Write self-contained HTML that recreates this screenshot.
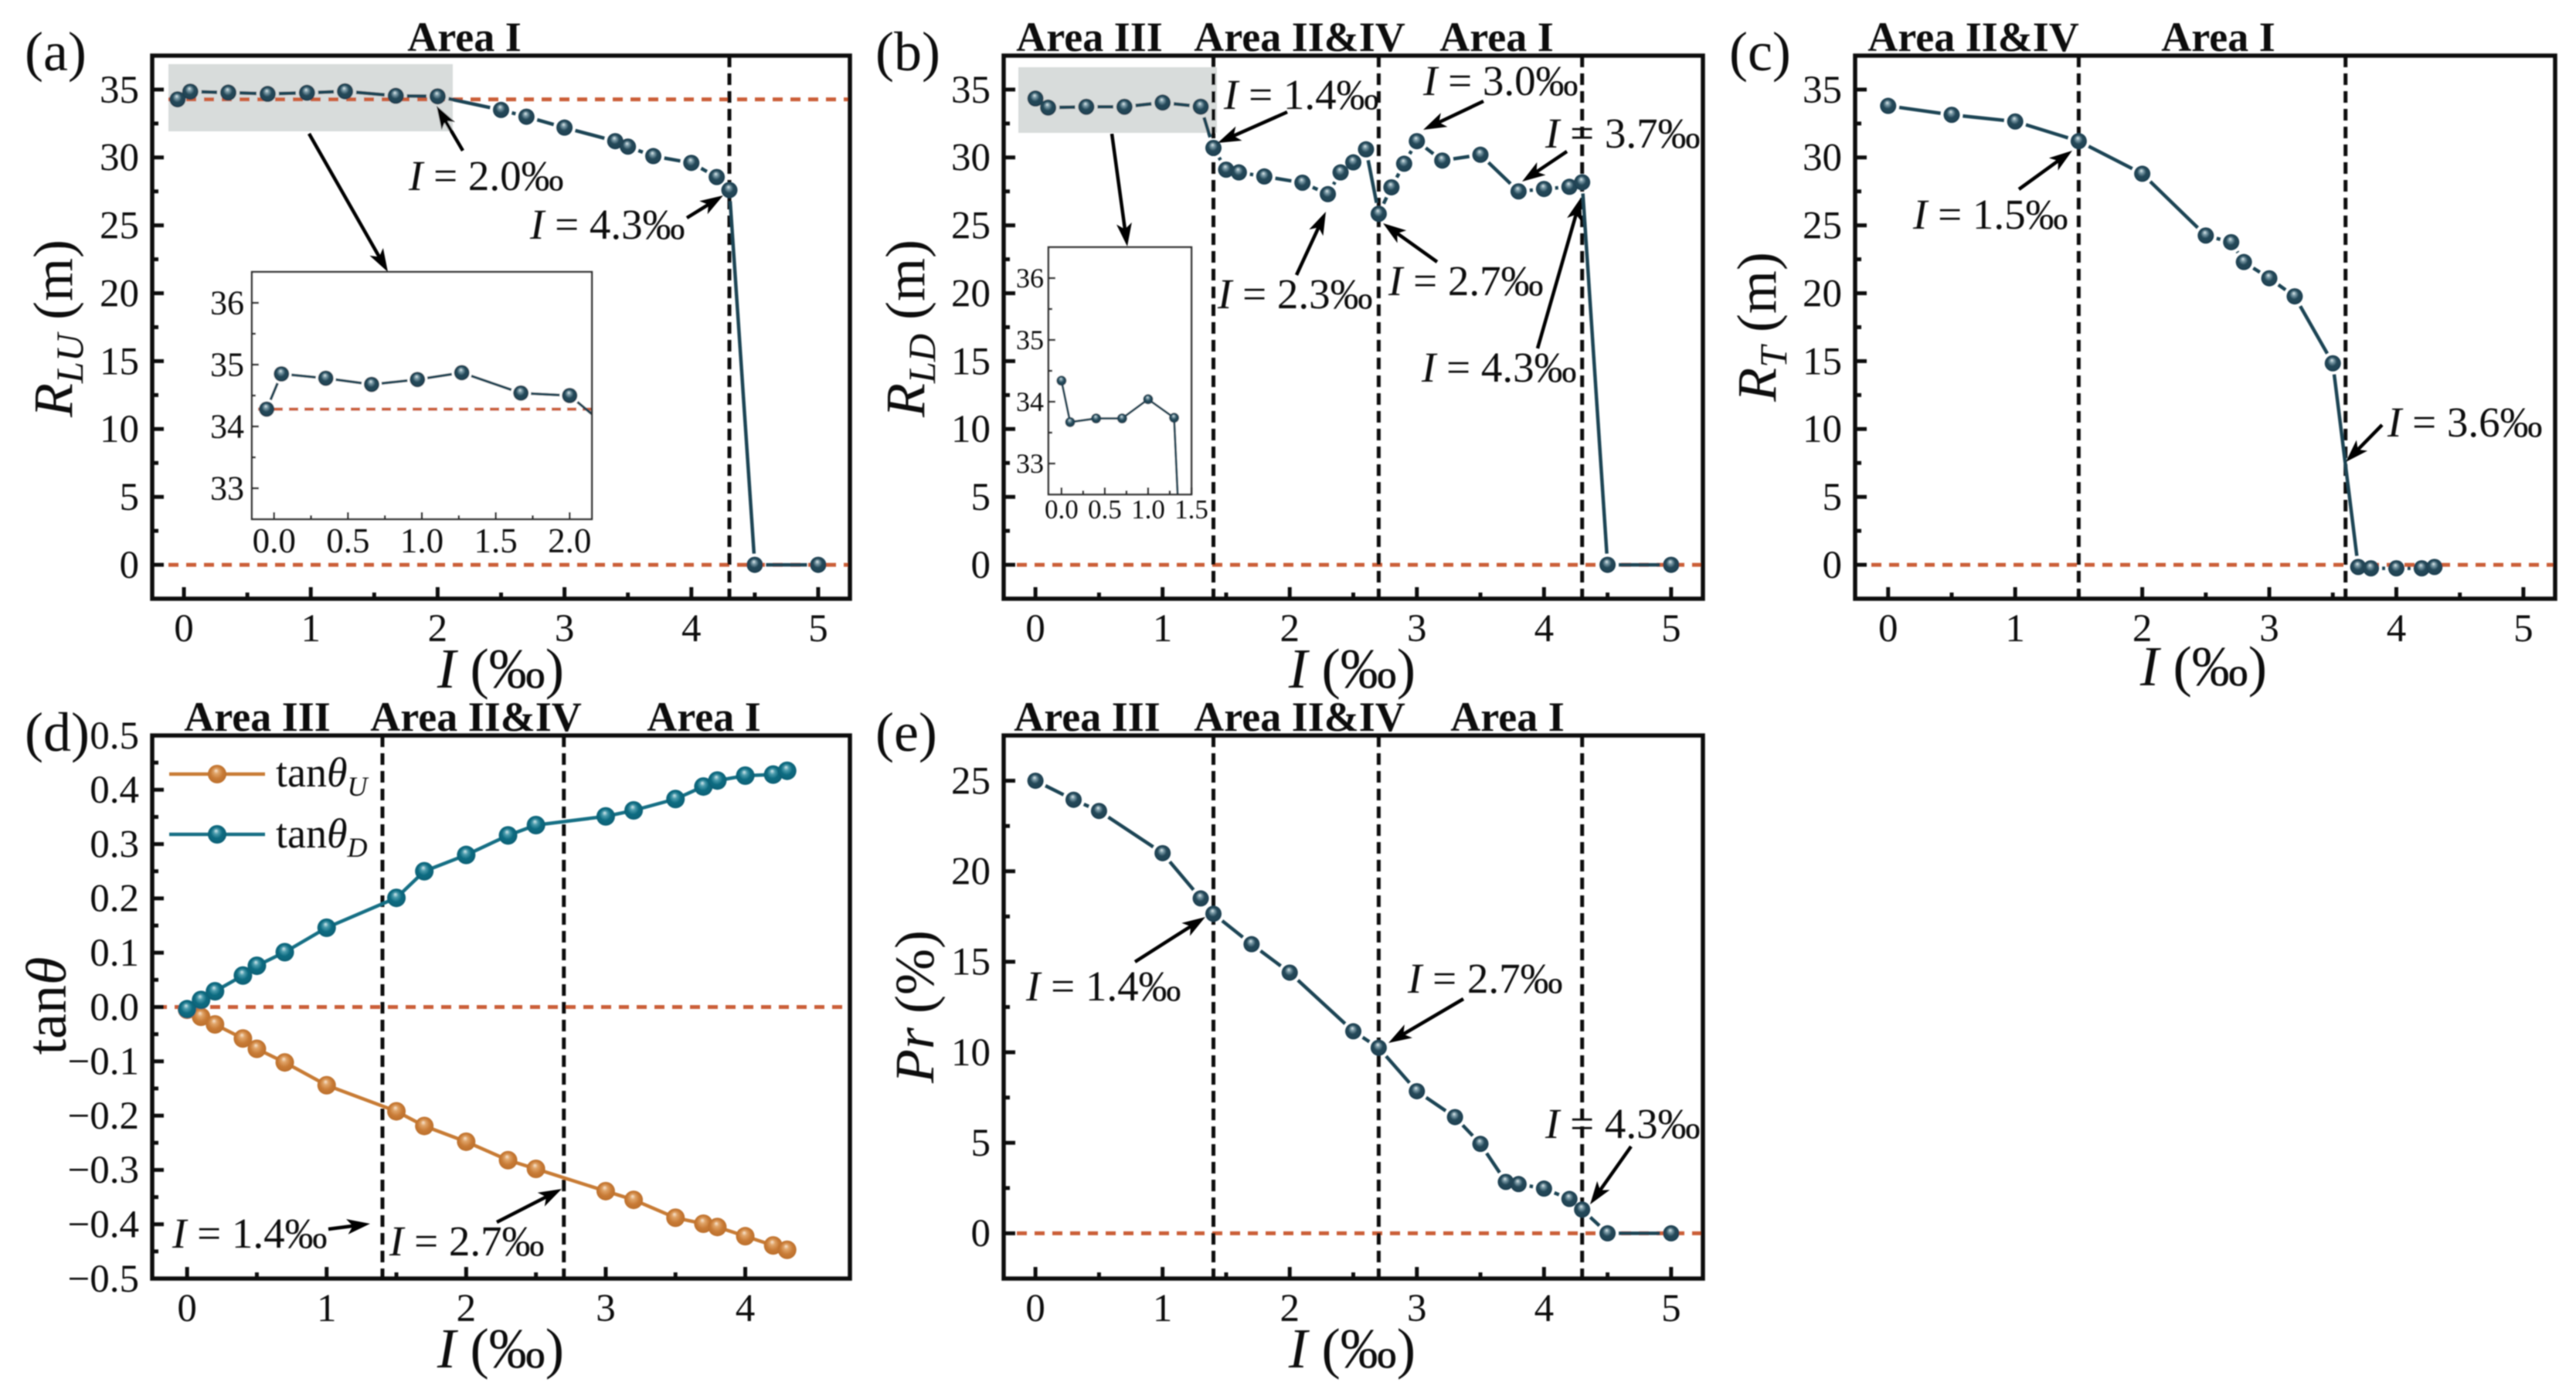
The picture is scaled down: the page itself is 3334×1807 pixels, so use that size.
<!DOCTYPE html>
<html lang="en">
<head>
<meta charset="utf-8">
<title>Panels (a)-(e): R and tan-theta versus I</title>
<style>
html,body{margin:0;padding:0;background:#fff;width:100%;height:100%;overflow:hidden;}
svg{position:fixed;left:0;top:0;overflow:hidden;}
text{font-family:"Liberation Serif",serif;fill:#111;}
.area{font-weight:bold;font-size:54px;text-anchor:middle;}
.ann{font-size:55px;}
.xt{font-size:73px;text-anchor:middle;}
.yt{font-size:72px;text-anchor:middle;}
.letter{font-size:72px;}
.leg{font-size:54px;}
</style>
</head>
<body>
<svg id="chart" xmlns="http://www.w3.org/2000/svg" width="3334" height="1800" viewBox="0 0 3334 1800">
<defs>
<radialGradient id="sphereDark" cx="0.5" cy="0.5" r="0.55" fx="0.44" fy="0.3">
<stop offset="0" stop-color="#e4ecee"/><stop offset="0.2" stop-color="#7f9fab"/><stop offset="0.5" stop-color="#25495a"/><stop offset="1" stop-color="#1c3e4e"/>
</radialGradient>
<radialGradient id="sphereOrange" cx="0.5" cy="0.5" r="0.55" fx="0.44" fy="0.3">
<stop offset="0" stop-color="#f8e6d2"/><stop offset="0.25" stop-color="#e0a468"/><stop offset="0.6" stop-color="#c87b36"/><stop offset="1" stop-color="#b96d2a"/>
</radialGradient>
<radialGradient id="sphereTeal" cx="0.5" cy="0.5" r="0.55" fx="0.44" fy="0.3">
<stop offset="0" stop-color="#d5eaee"/><stop offset="0.25" stop-color="#4a9cad"/><stop offset="0.55" stop-color="#0f6c82"/><stop offset="1" stop-color="#0b5e73"/>
</radialGradient>
<filter id="soft" filterUnits="userSpaceOnUse" x="0" y="0" width="3334" height="1800"><feGaussianBlur stdDeviation="0.8"/></filter>
</defs>
<g id="root" filter="url(#soft)">
<g id="marks"></g>

<text class="letter" x="32" y="91">(a)</text>
<text class="letter" x="1133" y="91">(b)</text>
<text class="letter" x="2238" y="91">(c)</text>
<text class="letter" x="32" y="972">(d)</text>
<text class="letter" x="1133" y="972">(e)</text>

<text class="area" x="601" y="66">Area I</text>
<text class="area" x="1410" y="66">Area III</text>
<text class="area" x="1682" y="66">Area II&amp;IV</text>
<text class="area" x="1937" y="66">Area I</text>
<text class="area" x="2554" y="66">Area II&amp;IV</text>
<text class="area" x="2871" y="66">Area I</text>
<text class="area" x="333" y="946">Area III</text>
<text class="area" x="616" y="946">Area II&amp;IV</text>
<text class="area" x="911" y="946">Area I</text>
<text class="area" x="1407" y="946">Area III</text>
<text class="area" x="1682" y="946">Area II&amp;IV</text>
<text class="area" x="1951" y="946">Area I</text>

<text class="xt" x="648" y="890"><tspan font-style="italic">I</tspan> (‰)</text>
<text class="xt" x="1750" y="890"><tspan font-style="italic">I</tspan> (‰)</text>
<text class="xt" x="2852" y="887"><tspan font-style="italic">I</tspan> (‰)</text>
<text class="xt" x="648" y="1770"><tspan font-style="italic">I</tspan> (‰)</text>
<text class="xt" x="1750" y="1770"><tspan font-style="italic">I</tspan> (‰)</text>

<text class="yt" transform="translate(93,425) rotate(-90)"><tspan font-style="italic">R</tspan><tspan font-style="italic" font-size="50" dy="14">LU</tspan><tspan dy="-14"> (m)</tspan></text>
<text class="yt" transform="translate(1196,425) rotate(-90)"><tspan font-style="italic">R</tspan><tspan font-style="italic" font-size="50" dy="14">LD</tspan><tspan dy="-14"> (m)</tspan></text>
<text class="yt" transform="translate(2298,423) rotate(-90)"><tspan font-style="italic">R</tspan><tspan font-style="italic" font-size="50" dy="14">T</tspan><tspan dy="-14"> (m)</tspan></text>
<text class="yt" style="font-size:74px" transform="translate(85,1302) rotate(-90)">tan<tspan font-style="italic">θ</tspan></text>
<text class="yt" transform="translate(1208,1303) rotate(-90)"><tspan font-style="italic">Pr</tspan> (%)</text>

<text class="ann" x="529" y="246"><tspan font-style="italic">I</tspan> = 2.0‰</text>
<text class="ann" x="686" y="309"><tspan font-style="italic">I</tspan> = 4.3‰</text>
<text class="ann" x="1584" y="141"><tspan font-style="italic">I</tspan> = 1.4‰</text>
<text class="ann" x="1842" y="123"><tspan font-style="italic">I</tspan> = 3.0‰</text>
<text class="ann" x="2000" y="191"><tspan font-style="italic">I</tspan> = 3.7‰</text>
<text class="ann" x="1576" y="399"><tspan font-style="italic">I</tspan> = 2.3‰</text>
<text class="ann" x="1797" y="382"><tspan font-style="italic">I</tspan> = 2.7‰</text>
<text class="ann" x="1840" y="494"><tspan font-style="italic">I</tspan> = 4.3‰</text>
<text class="ann" x="2476" y="296"><tspan font-style="italic">I</tspan> = 1.5‰</text>
<text class="ann" x="3090" y="565"><tspan font-style="italic">I</tspan> = 3.6‰</text>
<text class="ann" x="223" y="1615"><tspan font-style="italic">I</tspan> = 1.4‰</text>
<text class="ann" x="504" y="1625"><tspan font-style="italic">I</tspan> = 2.7‰</text>
<text class="ann" x="1328" y="1295"><tspan font-style="italic">I</tspan> = 1.4‰</text>
<text class="ann" x="1822" y="1285"><tspan font-style="italic">I</tspan> = 2.7‰</text>
<text class="ann" x="2000" y="1473"><tspan font-style="italic">I</tspan> = 4.3‰</text>

<text class="leg" x="357" y="1018">tan<tspan font-style="italic">θ</tspan><tspan font-style="italic" font-size="36" dy="12">U</tspan></text>
<text class="leg" x="357" y="1097">tan<tspan font-style="italic">θ</tspan><tspan font-style="italic" font-size="36" dy="12">D</tspan></text>
</g>
</svg>
<script>
// ---- data ----
var aI = [-0.05,0.05,0.35,0.66,0.97,1.27,1.67,2.0,2.5,2.7,3.0,3.4,3.5,3.7,4.0,4.2,4.3,4.5,5.0];
var aR = [34.28,34.85,34.78,34.68,34.76,34.87,34.54,34.5,33.5,33.0,32.2,31.2,30.8,30.1,29.6,28.56,27.6,0,0];
var aReference = [34.28,0];
var aCritical = [4.3];

var bI = [0,0.1,0.4,0.7,1.0,1.3,1.4,1.5,1.6,1.8,2.1,2.3,2.4,2.5,2.6,2.7,2.8,2.9,3.0,3.2,3.5,3.8,4.0,4.2,4.3,4.5,5.0];
var bR = [34.34,33.67,33.73,33.73,34.04,33.74,30.7,29.1,28.9,28.6,28.14,27.3,28.9,29.64,30.6,25.85,27.8,29.54,31.2,29.77,30.2,27.5,27.68,27.84,28.17,0,0];
var bReference = [0];
var bCritical = [1.4,2.7,4.3];

var cI = [0,0.5,1.0,1.5,2.0,2.5,2.7,2.8,3.0,3.2,3.5,3.7,3.8,4.0,4.2,4.3];
var cR = [33.8,33.14,32.65,31.2,28.8,24.25,23.76,22.3,21.1,19.77,14.84,-0.16,-0.26,-0.26,-0.26,-0.16];
var cReference = [0];
var cCritical = [1.5,3.6];

var dI = [0,0.1,0.2,0.4,0.5,0.7,1.0,1.5,1.7,2.0,2.3,2.5,3.0,3.2,3.5,3.7,3.8,4.0,4.2,4.3];
var dTanU = [-0.005,-0.018,-0.032,-0.058,-0.077,-0.102,-0.144,-0.192,-0.219,-0.248,-0.282,-0.298,-0.339,-0.355,-0.388,-0.399,-0.405,-0.422,-0.439,-0.447];
var dTanD = [-0.004,0.013,0.029,0.058,0.076,0.101,0.146,0.201,0.25,0.28,0.316,0.335,0.351,0.362,0.383,0.406,0.417,0.426,0.428,0.435];
var dReference = [0];
var dCritical = [1.4,2.7];

var eI = [0,0.3,0.5,1.0,1.3,1.4,1.7,2.0,2.5,2.7,3.0,3.3,3.5,3.7,3.8,4.0,4.2,4.3,4.5,5.0];
var ePr = [25,23.95,23.33,21.0,18.5,17.65,15.97,14.4,11.16,10.25,7.85,6.42,4.94,2.84,2.72,2.47,1.9,1.31,0,0];
var eReference = [0];
var eCritical = [1.4,2.7,4.3];

var xTicksFive = [0,1,2,3,4,5];
var xTicksFour = [0,1,2,3,4];
var yTicksR = [0,5,10,15,20,25,30,35];
var yTicksTan = [-0.5,-0.4,-0.3,-0.2,-0.1,0,0.1,0.2,0.3,0.4,0.5];
var yTicksPr = [0,5,10,15,20,25];
var insetYTicks = [33,34,35,36];
var insetXTicksA = [0,0.5,1,1.5,2];
var insetXTicksB = [0,0.5,1,1.5];

// ---- drawing ----
var NS = 'http://www.w3.org/2000/svg';
var layer = document.getElementById('marks');
var clipCount = 0;
var defs = document.querySelector('defs');
var DARK = '#1f4555', RED = '#cb5f38';

function make(tag, parent, props) {
  var el = document.createElementNS(NS, tag);
  for (var k in props) el.setAttribute(k, props[k]);
  parent.appendChild(el);
  return el;
}
function fmt(v, d) {
  var s = Math.abs(v).toFixed(d);
  return (v < -1e-9 ? '\u2212' : '') + s;
}

function drawAxes(g, box, sx, sy, o) {
  o.xTicks.forEach(function (v, i) {
    var px = sx(v);
    var t = make('line', g, {x1:px, x2:px, y1:box.bottom, y2:box.bottom - o.major, stroke:'#111', 'stroke-width':o.tickW});
    
    
    var l = make('text', g, {x:px, y:box.bottom + o.xLabelDrop, 'text-anchor':'middle', 'font-size':o.fontX});
    
    
    l.textContent = fmt(v, o.xDec);
    if (i < o.xTicks.length - 1) {
      var mx = sx((v + o.xTicks[i + 1]) / 2);
      var m = make('line', g, {x1:mx, x2:mx, y1:box.bottom, y2:box.bottom - o.minor, stroke:'#111', 'stroke-width':o.tickW});
      
      
    }
  });
  o.yTicks.forEach(function (v, i) {
    var py = sy(v);
    var t = make('line', g, {x1:box.left, x2:box.left + o.major, y1:py, y2:py, stroke:'#111', 'stroke-width':o.tickW});
    
    
    var l = make('text', g, {x:box.left - o.yLabelGap, y:py + o.fontY * 0.33, 'text-anchor':'end', 'font-size':o.fontY});
    
    
    l.textContent = fmt(v, o.yDec);
    if (i < o.yTicks.length - 1) {
      var my = sy((v + o.yTicks[i + 1]) / 2);
      var m = make('line', g, {x1:box.left, x2:box.left + o.minor, y1:my, y2:my, stroke:'#111', 'stroke-width':o.tickW});
      
      
    }
  });
}

function series(g, xs, ys, sx, sy, o) {
  var i;
  for (i = 0; i < xs.length - 1; i++) {
    var x1 = sx(xs[i]), y1 = sy(ys[i]), x2 = sx(xs[i + 1]), y2 = sy(ys[i + 1]);
    var d = Math.hypot(x2 - x1, y2 - y1), cut = o.gap > 0 ? o.r + o.gap : 0;
    if (d <= cut * 2) continue;
    var ux = (x2 - x1) / d, uy = (y2 - y1) / d;
    var seg = make('line', g, {x1:x1 + ux * cut, y1:y1 + uy * cut, x2:x2 - ux * cut, y2:y2 - uy * cut, stroke:o.color, 'stroke-width':o.width});
    
    
  }
  for (i = 0; i < xs.length; i++) {
    var p = make('circle', g, {cx:sx(xs[i]), cy:sy(ys[i]), r:o.r, fill:'url(#' + o.fill + ')'});
    
    
  }
}

function panel(cfg) {
  var box = cfg.box;
  var sx = function (v) { return box.left + (v - cfg.xlim[0]) / (cfg.xlim[1] - cfg.xlim[0]) * (box.right - box.left); };
  var sy = function (v) { return box.bottom - (v - cfg.ylim[0]) / (cfg.ylim[1] - cfg.ylim[0]) * (box.bottom - box.top); };
  var g = make('g', layer, {});
  
  
  if (cfg.shade) {
    var s = make('rect', g, {x:cfg.shade[0], y:cfg.shade[1], width:cfg.shade[2], height:cfg.shade[3], fill:'#d8dcdb'});
    
    
  }
  cfg.reference.forEach(function (v) {
    var l = make('line', g, {x1:box.left + cfg.refInset, x2:box.right, y1:sy(v), y2:sy(v), stroke:RED, 'stroke-width':5, 'stroke-dasharray':'13 10'});
    
    
  });
  cfg.critical.forEach(function (v) {
    var l = make('line', g, {x1:sx(v), x2:sx(v), y1:box.top, y2:box.bottom, stroke:'#111', 'stroke-width':5, 'stroke-dasharray':'15 8'});
    
    
  });
  cfg.series.forEach(function (o) { series(g, o.x, o.y, sx, sy, o); });
  drawAxes(g, box, sx, sy, {xTicks:cfg.xTicks, yTicks:cfg.yTicks, major:15, minor:8, tickW:5, xLabelDrop:55, yLabelGap:17, fontX:51, fontY:51, xDec:0, yDec:cfg.yDec});
  var f = make('rect', g, {x:box.left, y:box.top, width:box.right - box.left, height:box.bottom - box.top, fill:'none', stroke:'#111', 'stroke-width':5.5});
  
  
  return g;
}

function inset(cfg) {
  var box = cfg.box;
  var sx = function (v) { return box.left + (v - cfg.xlim[0]) / (cfg.xlim[1] - cfg.xlim[0]) * (box.right - box.left); };
  var sy = function (v) { return box.bottom - (v - cfg.ylim[0]) / (cfg.ylim[1] - cfg.ylim[0]) * (box.bottom - box.top); };
  var g = make('g', layer, {});
  
  
  var bg = make('rect', g, {x:box.left, y:box.top, width:box.right - box.left, height:box.bottom - box.top, fill:'#fff'});
  
  
  clipCount++;
  var cp = make('clipPath', defs, {id:'insetClip' + clipCount});
  make('rect', cp, {x:box.left, y:box.top, width:box.right - box.left, height:box.bottom - box.top});
  var inner = make('g', g, {'clip-path':'url(#insetClip' + clipCount + ')'});
  
  
  cfg.reference.forEach(function (v) {
    var l = make('line', inner, {x1:box.left + 8, x2:box.right, y1:sy(v), y2:sy(v), stroke:RED, 'stroke-width':4, 'stroke-dasharray':'12 8'});
    
    
  });
  series(inner, cfg.x, cfg.y, sx, sy, cfg.style);
  drawAxes(g, box, sx, sy, {xTicks:cfg.xTicks, yTicks:cfg.yTicks, major:9, minor:5, tickW:2.5, xLabelDrop:cfg.xDrop, yLabelGap:cfg.yGap, fontX:cfg.fontX, fontY:cfg.fontY, xDec:1, yDec:0});
  var f = make('rect', g, {x:box.left, y:box.top, width:box.right - box.left, height:box.bottom - box.top, fill:'none', stroke:'#333', 'stroke-width':2.5});
  
  
}

function arrow(x1, y1, x2, y2, name) {
  var d = Math.hypot(x2 - x1, y2 - y1), ux = (x2 - x1) / d, uy = (y2 - y1) / d;
  var hl = 30, hw = 10, nx = -uy, ny = ux;
  var bx = x2 - ux * hl, by = y2 - uy * hl;
  var nbx = x2 - ux * hl * 0.75, nby = y2 - uy * hl * 0.75;
  var g = make('g', layer, {});
  
  
  make('line', g, {x1:x1, y1:y1, x2:nbx, y2:nby, stroke:'#000', 'stroke-width':4.5});
  make('polygon', g, {points:[x2, y2, bx + nx * hw, by + ny * hw, nbx, nby, bx - nx * hw, by - ny * hw].join(','), fill:'#000'});
}

var darkStyle = {color:DARK, width:4.5, r:10.5, gap:4, fill:'sphereDark'};
function styled(name, x, y, base) {
  return {name:name, x:x, y:y, color:base.color, width:base.width, r:base.r, gap:base.gap, fill:base.fill};
}

panel({name:'panel-a', box:{left:197, right:1100, top:72, bottom:775}, xlim:[-0.25,5.25], ylim:[-2.5,37.5],
  xTicks:xTicksFive, yTicks:yTicksR, yDec:0, reference:aReference, refInset:21, critical:aCritical,
  shade:[218,83,368,87], series:[styled('rlu', aI, aR, darkStyle)]});
panel({name:'panel-b', box:{left:1299, right:2204, top:72, bottom:775}, xlim:[-0.25,5.25], ylim:[-2.5,37.5],
  xTicks:xTicksFive, yTicks:yTicksR, yDec:0, reference:bReference, refInset:17, critical:bCritical,
  shade:[1318,87,257,85], series:[styled('rld', bI, bR, darkStyle)]});
panel({name:'panel-c', box:{left:2401, right:3307, top:72, bottom:775}, xlim:[-0.26,5.25], ylim:[-2.5,37.5],
  xTicks:xTicksFive, yTicks:yTicksR, yDec:0, reference:cReference, refInset:21, critical:cCritical,
  series:[styled('rt', cI, cR, darkStyle)]});
panel({name:'panel-d', box:{left:197, right:1100, top:952, bottom:1655}, xlim:[-0.25,4.75], ylim:[-0.5,0.5],
  xTicks:xTicksFour, yTicks:yTicksTan, yDec:1, reference:dReference, refInset:6, critical:dCritical,
  series:[
    {name:'tan-theta-u', x:dI, y:dTanU, color:'#c87b36', width:4.5, r:12, gap:0, fill:'sphereOrange'},
    {name:'tan-theta-d', x:dI, y:dTanD, color:'#126f85', width:4.5, r:12, gap:0, fill:'sphereTeal'}
  ]});
panel({name:'panel-e', box:{left:1299, right:2204, top:952, bottom:1655}, xlim:[-0.25,5.25], ylim:[-2.5,27.5],
  xTicks:xTicksFive, yTicks:yTicksPr, yDec:0, reference:eReference, refInset:17, critical:eCritical,
  series:[styled('pr', eI, ePr, darkStyle)]});

inset({name:'inset-a', box:{left:326, right:766, top:352, bottom:672}, xlim:[-0.15,2.15], ylim:[32.5,36.5],
  x:aI, y:aR, reference:[aReference[0]], xTicks:insetXTicksA, yTicks:insetYTicks, fontX:45, fontY:44, xDrop:43, yGap:10,
  style:{name:'inset-rlu', color:DARK, width:3.5, r:10, gap:3, fill:'sphereDark'}});
inset({name:'inset-b', box:{left:1357, right:1542, top:320, bottom:640}, xlim:[-0.15,1.5], ylim:[32.5,36.5],
  x:bI, y:bR, reference:[], xTicks:insetXTicksB, yTicks:insetYTicks, fontX:35, fontY:36, xDrop:31, yGap:6,
  style:{name:'inset-rld', color:DARK, width:3, r:6.5, gap:0, fill:'sphereDark'}});

arrow(400,173,502,352,'a-inset-arrow');
arrow(599,195,565,137,'a-arrow-2-0');
arrow(889,282,936,253,'a-arrow-4-3');
arrow(1439,173,1459,319,'b-inset-arrow');
arrow(1666,145,1576,185,'b-arrow-1-4');
arrow(1920,131,1842,168,'b-arrow-3-0');
arrow(2028,196,1970,235,'b-arrow-3-7');
arrow(1678,356,1716,274,'b-arrow-2-3');
arrow(1860,339,1790,289,'b-arrow-2-7');
arrow(1990,451,2046,256,'b-arrow-4-3');
arrow(2613,245,2682,195,'c-arrow-1-5');
arrow(3083,550,3036,598,'c-arrow-3-6');
arrow(425,1591,479,1584,'d-arrow-1-4');
arrow(643,1582,727,1539,'d-arrow-2-7');
arrow(1469,1245,1560,1187,'e-arrow-1-4');
arrow(1894,1293,1797,1350,'e-arrow-2-7');
arrow(2111,1484,2058,1559,'e-arrow-4-3');

var legendRows = [{name:'legend-entry-tan-u', color:'#c87b36', fill:'sphereOrange', y:1002},
                  {name:'legend-entry-tan-d', color:'#126f85', fill:'sphereTeal', y:1080}];
legendRows.forEach(function (row) {
  var g = make('g', layer, {});
  
  
  make('line', g, {x1:219, x2:343, y1:row.y, y2:row.y, stroke:row.color, 'stroke-width':4.5});
  make('circle', g, {cx:281, cy:row.y, r:12, fill:'url(#' + row.fill + ')'});
});
</script>
</body>
</html>
